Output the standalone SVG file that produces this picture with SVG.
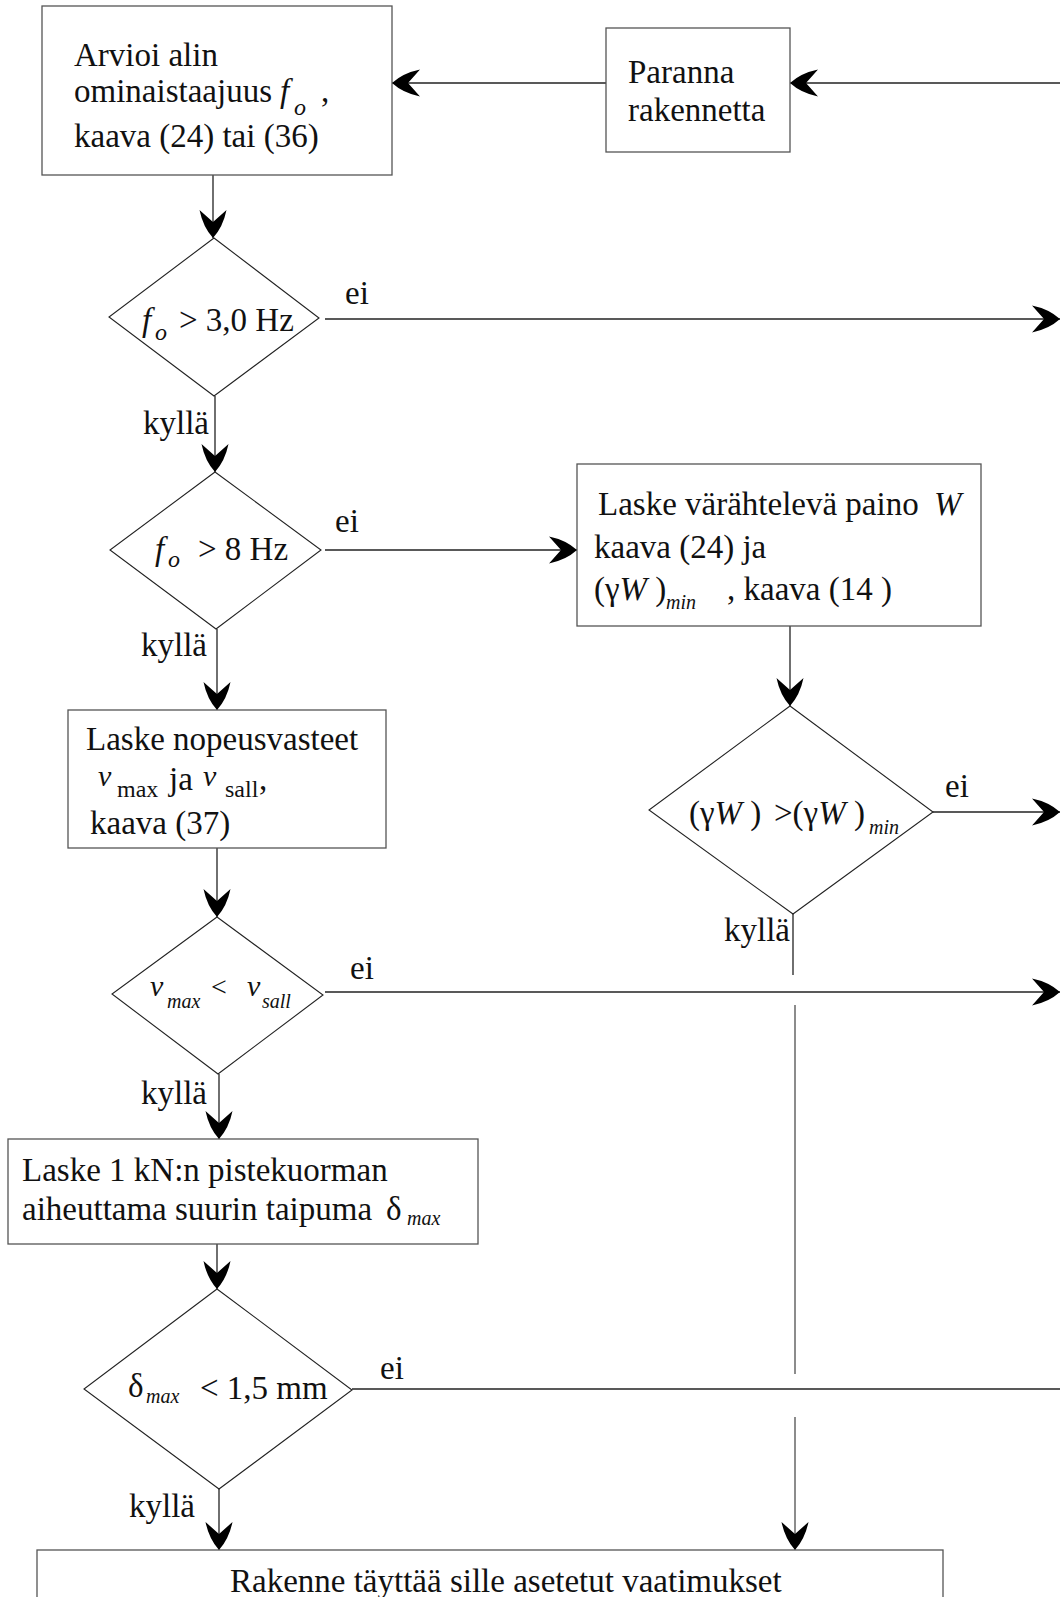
<svg xmlns="http://www.w3.org/2000/svg" width="1060" height="1597" viewBox="0 0 1060 1597">
<style>
  text { font-family: "Liberation Serif", "Times New Roman", serif; font-size: 33px; fill: #111; }
  .it { font-style: italic; }
  .box { fill: #fff; stroke: #555; stroke-width: 1.3; }
  .dia { fill: #fff; stroke: #222; stroke-width: 1.1; }
  .ln { fill: none; stroke: #222; stroke-width: 1.3; }
  .lg { fill: none; stroke: #666; stroke-width: 1.5; }
  .ar { marker-end: url(#ah); }
</style>
<defs>
  <marker id="ah" markerUnits="userSpaceOnUse" markerWidth="40" markerHeight="40" refX="0" refY="0" orient="auto" overflow="visible">
    <path d="M0,0 Q-11,-10 -28,-13.5 L-16,0 L-28,13.5 Q-11,10 0,0 Z" fill="#000"/>
  </marker>
</defs>
<rect x="0" y="0" width="1060" height="1597" fill="#fff"/>

<g id="connectors">
  <path class="ln ar" d="M1060,83 H790"/>
  <path class="ln ar" d="M606,83 H392"/>
  <path class="ln ar" d="M213,175 V238"/>
  <path class="ln ar" d="M325,319 H1060"/>
  <path class="ln ar" d="M215,396 V472"/>
  <path class="ln ar" d="M325,550 H577"/>
  <path class="ln ar" d="M217,629 V710"/>
  <path class="ln ar" d="M790,626 V706"/>
  <path class="ln ar" d="M933,812 H1060"/>
  <path class="ln ar" d="M217,848 V917"/>
  <path class="ln ar" d="M325,992 H1060"/>
  <path class="ln" d="M793,914 V975"/>
  <path class="lg" d="M795,1005 V1374"/>
  <path class="lg ar" d="M795,1417 V1550"/>
  <path class="ln ar" d="M219,1074 V1139"/>
  <path class="ln ar" d="M217,1244 V1289"/>
  <path class="ln" d="M352,1389 H1060"/>
  <path class="ln ar" d="M219,1489 V1550"/>
</g>

<g id="n-arvioi">
  <rect class="box" x="42" y="6" width="350" height="169"/>
  <text x="74" y="66">Arvioi alin</text>
  <text x="74" y="102">ominaistaajuus <tspan class="it" x="280">f</tspan><tspan class="it" font-size="24" x="294" y="115">o</tspan><tspan x="321" y="102">,</tspan></text>
  <text x="74" y="147">kaava (24) tai (36)</text>
</g>

<g id="n-paranna">
  <rect class="box" x="606" y="28" width="184" height="124"/>
  <text x="628" y="83">Paranna</text>
  <text x="628" y="121">rakennetta</text>
</g>

<g id="n-d1">
  <polygon class="dia" points="214,238 319,318 214,396 109,317"/>
  <text><tspan class="it" x="142" y="331">f</tspan><tspan class="it" font-size="24" x="155" y="340">o</tspan><tspan x="179" y="331">&gt; 3,0 Hz</tspan></text>
</g>
<text x="345" y="304">ei</text>
<text x="143" y="434">kyllä</text>

<g id="n-d2">
  <polygon class="dia" points="215,472 321,550 216,629 110,550"/>
  <text><tspan class="it" x="155" y="560">f</tspan><tspan class="it" font-size="24" x="168" y="567">o</tspan><tspan x="198" y="560">&gt; 8 Hz</tspan></text>
</g>
<text x="335" y="532">ei</text>
<text x="141" y="656">kyllä</text>

<g id="n-varahteleva">
  <rect class="box" x="577" y="464" width="404" height="162"/>
  <text x="598" y="515">Laske värähtelevä paino <tspan class="it" x="934">W</tspan></text>
  <text x="594" y="558">kaava (24) ja</text>
  <text><tspan x="594" y="600">(γ</tspan><tspan class="it">W</tspan><tspan> )</tspan><tspan class="it" font-size="20" x="666" y="609">min</tspan><tspan x="727" y="600">, kaava (14 )</tspan></text>
</g>

<g id="n-d3">
  <polygon class="dia" points="790,706 933,812 793,914 649,810"/>
  <text font-size="30"><tspan x="689" y="824">(γ</tspan><tspan class="it">W</tspan><tspan> )</tspan><tspan x="774">&gt;(γ</tspan><tspan class="it">W</tspan><tspan> )</tspan><tspan class="it" font-size="20" x="869" y="834">min</tspan></text>
</g>
<text x="945" y="797">ei</text>
<text x="724" y="941">kyllä</text>

<g id="n-nopeus">
  <rect class="box" x="68" y="710" width="318" height="138"/>
  <text x="86" y="750">Laske nopeusvasteet</text>
  <text><tspan class="it" font-size="30" x="98" y="786">v</tspan><tspan font-size="24" x="117" y="797">max</tspan><tspan x="169" y="790">ja</tspan><tspan class="it" font-size="30" x="203" y="786">v</tspan><tspan font-size="24" x="225" y="797">sall</tspan><tspan x="259" y="790">,</tspan></text>
  <text x="90" y="834">kaava (37)</text>
</g>

<g id="n-d4">
  <polygon class="dia" points="217,917 323,995 218,1074 112,994"/>
  <text><tspan class="it" font-size="30" x="150" y="996">v</tspan><tspan class="it" font-size="20" x="167" y="1008">max</tspan><tspan font-size="28" x="211" y="996">&lt;</tspan><tspan class="it" font-size="30" x="247" y="996">v</tspan><tspan class="it" font-size="20" x="262" y="1008">sall</tspan></text>
</g>
<text x="350" y="979">ei</text>
<text x="141" y="1104">kyllä</text>

<g id="n-taipuma">
  <rect class="box" x="8" y="1139" width="470" height="105"/>
  <text x="22" y="1181">Laske 1 kN:n pistekuorman</text>
  <text x="22" y="1220">aiheuttama suurin taipuma <tspan x="386">δ</tspan><tspan class="it" font-size="20" x="407" y="1225">max</tspan></text>
</g>

<g id="n-d5">
  <polygon class="dia" points="217,1289 352,1390 219,1489 84,1389"/>
  <text><tspan x="128" y="1397">δ</tspan><tspan class="it" font-size="20" x="146" y="1403">max</tspan><tspan x="200" y="1399">&lt; 1,5 mm</tspan></text>
</g>
<text x="380" y="1379">ei</text>
<text x="129" y="1517">kyllä</text>

<g id="n-rakenne">
  <rect class="box" x="37" y="1550" width="906" height="80"/>
  <text x="230" y="1592">Rakenne täyttää sille asetetut vaatimukset</text>
</g>
</svg>
